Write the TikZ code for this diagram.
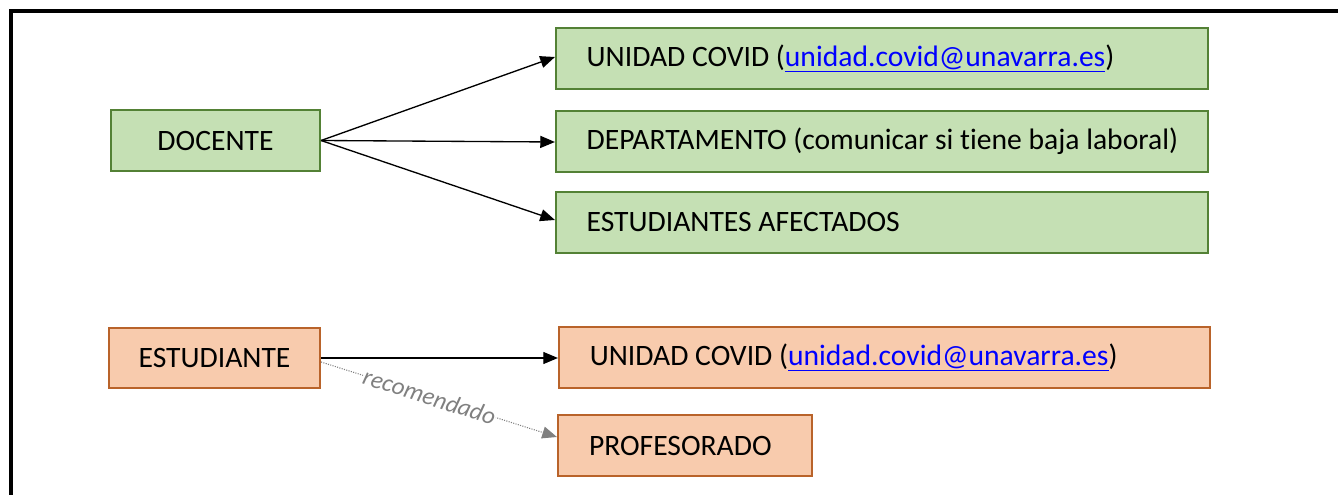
\documentclass[tikz,border=0pt]{standalone}
\usepackage{fontspec}
\setmainfont{Carlito}[Ligatures=NoCommon]
\usetikzlibrary{arrows.meta}
\definecolor{gfill}{HTML}{C5E0B4}
\definecolor{gline}{HTML}{538135}
\definecolor{ofill}{HTML}{F8CBAD}
\definecolor{oline}{HTML}{B9632A}
\definecolor{linkblue}{HTML}{0000FF}
\definecolor{dgray}{HTML}{808080}
\newcommand{\maillink}[1]{\textcolor{linkblue}{\underline{#1}}}
\newcommand{\lbox}[2]{\makebox[#1][l]{#2}}
\tikzset{
  gbox/.style={draw=gline, fill=gfill, line width=1.6pt, inner sep=0pt, font=\fontsize{22.2}{26}\selectfont},
  obox/.style={draw=oline, fill=ofill, line width=1.6pt, inner sep=0pt, font=\fontsize{22.2}{26}\selectfont},
  wide/.style={minimum width=489pt, minimum height=45.75pt, inner xsep=23pt},
  arr/.style={-{Triangle[length=11pt,width=9pt]}, line width=1pt, black},
  recarr/.style={-{Triangle[length=11pt,width=9pt]}, dgray, densely dotted, line width=0.8pt}
}
\begin{document}
\begin{tikzpicture}[x=0.75pt,y=-0.75pt]
\useasboundingbox (0,0) rectangle (1338,495);
\draw[line width=2.4pt] (11,520) -- (11,11) -- (1360,11);
% nodes
\node[gbox, minimum width=156.75pt, minimum height=45.75pt] (doc) at (215.5,140.5) {DOCENTE};
\node[gbox, wide] (uc1) at (882,58.5) {\lbox{443pt}{UNIDAD COVID (\maillink{unidad.covid@unavarra.es})}};
\node[gbox, wide] (dep) at (882,141.5) {\lbox{443pt}{DEPARTAMENTO (comunicar si tiene baja laboral)}};
\node[gbox, wide] (est) at (882,222.5) {\lbox{443pt}{ESTUDIANTES AFECTADOS}};
\node[obox, minimum width=158.25pt, minimum height=45pt] (stu) at (214.5,358) {ESTUDIANTE};
\node[obox, wide, minimum width=488.25pt] (uc2) at (884.5,357.5) {\lbox{442pt}{UNIDAD COVID (\maillink{unidad.covid@unavarra.es})}};
\node[obox, minimum width=190.5pt, minimum height=45.75pt, inner xsep=23pt] (prof) at (685,445.5) {\lbox{144pt}{PROFESORADO}};
% connectors
\draw[arr] (doc.east) -- (uc1.west |- 0,57);
\draw[arr] (doc.east) -- (dep.west |- 0,142);
\draw[arr] (doc.east) -- (est.west |- 0,220);
\draw[arr] (stu.east |- 0,358) -- (uc2.west |- 0,358);
\draw[recarr] (stu.east |- 0,362) -- node[pos=0.46, sloped, fill=white, inner sep=0.5pt, text=dgray, font=\fontsize{18.5}{20}\selectfont\itshape] {recomendado} (prof.west |- 0,437);
\end{tikzpicture}
\end{document}
